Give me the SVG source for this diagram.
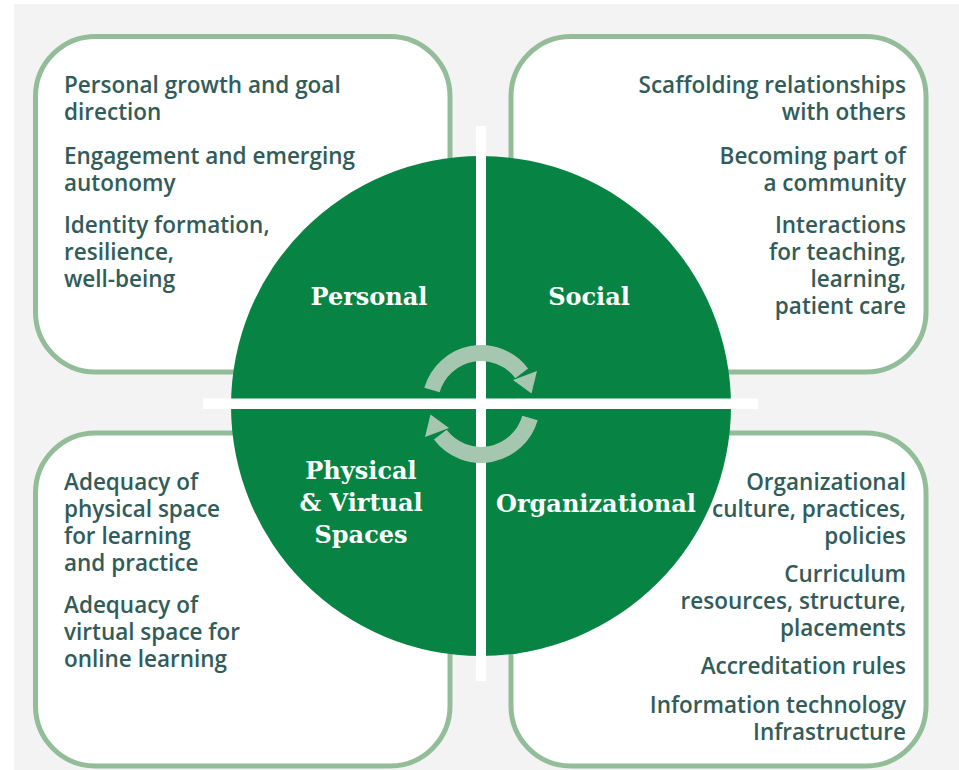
<svg xmlns="http://www.w3.org/2000/svg" width="959" height="770" viewBox="0 0 959 770">
<style>
.box{fill:#ffffff;stroke:#93bd98;stroke-width:5}
.t{font-family:"Open Sans","Liberation Sans",sans-serif;font-weight:600;font-size:22.5px;fill:#325c59}
.r{text-anchor:end}
.lab{font-family:"DejaVu Serif","Liberation Serif",serif;font-weight:bold;font-size:24px;fill:#ffffff;text-anchor:middle}
.bar{fill:#ffffff}
.arr{fill:none;stroke:#a6c7af;stroke-width:16}
.head{fill:#a6c7af}
</style>
<rect x="0" y="0" width="959" height="770" fill="#ffffff"/>
<rect x="14" y="4" width="945" height="766" fill="#f3f3f3"/>
<g id="box-personal">
<rect class="box" x="35.5" y="36.5" width="414.5" height="335.5" rx="60"/>
<text class="t" x="64" y="93">Personal growth and goal</text>
<text class="t" x="64" y="120">direction</text>
<text class="t" x="64" y="164">Engagement and emerging</text>
<text class="t" x="64" y="191">autonomy</text>
<text class="t" x="64" y="233">Identity formation,</text>
<text class="t" x="64" y="260">resilience,</text>
<text class="t" x="64" y="287">well-being</text>
</g>
<g id="box-social">
<rect class="box" x="511" y="36.5" width="415" height="335.5" rx="60"/>
<text class="t r" x="906" y="93">Scaffolding relationships</text>
<text class="t r" x="906" y="120">with others</text>
<text class="t r" x="906" y="164">Becoming part of</text>
<text class="t r" x="906" y="191">a community</text>
<text class="t r" x="906" y="233">Interactions</text>
<text class="t r" x="906" y="260">for teaching,</text>
<text class="t r" x="906" y="287">learning,</text>
<text class="t r" x="906" y="314">patient care</text>
</g>
<g id="box-physical">
<rect class="box" x="35.5" y="433" width="414.5" height="333" rx="60"/>
<text class="t" x="64" y="490">Adequacy of</text>
<text class="t" x="64" y="517">physical space</text>
<text class="t" x="64" y="544">for learning</text>
<text class="t" x="64" y="571">and practice</text>
<text class="t" x="64" y="613">Adequacy of</text>
<text class="t" x="64" y="640">virtual space for</text>
<text class="t" x="64" y="667">online learning</text>
</g>
<g id="box-organizational">
<rect class="box" x="511" y="433" width="415" height="333" rx="60"/>
<text class="t r" x="906" y="490">Organizational</text>
<text class="t r" x="906" y="517">culture, practices,</text>
<text class="t r" x="906" y="544">policies</text>
<text class="t r" x="906" y="582">Curriculum</text>
<text class="t r" x="906" y="609">resources, structure,</text>
<text class="t r" x="906" y="636">placements</text>
<text class="t r" x="906" y="674">Accreditation rules</text>
<text class="t r" x="906" y="713">Information technology</text>
<text class="t r" x="906" y="740">Infrastructure</text>
</g>
<g id="wheel">
<circle cx="481" cy="406" r="250" fill="#078443"/>
<rect class="bar" x="476" y="126" width="10" height="555"/>
<rect class="bar" x="203" y="398.5" width="555" height="10.5"/>
</g>
<g id="connectors">
<path class="arr" d="M432 390 A51 51 0 0 1 521.7 373.3"/>
<polygon class="head" points="513,380 537,371 531.5,393.5"/>
<g transform="rotate(180 481 404)">
<path class="arr" d="M432 390 A51 51 0 0 1 521.7 373.3"/>
<polygon class="head" points="513,380 537,371 531.5,393.5"/>
</g>
</g>
<g id="label-personal"><text class="lab" x="369" y="305">Personal</text></g>
<g id="label-social"><text class="lab" x="589" y="305">Social</text></g>
<g id="label-physical"><text class="lab" x="361" y="479">Physical</text><text class="lab" x="361" y="511">&amp; Virtual</text><text class="lab" x="361" y="543">Spaces</text></g>
<g id="label-organizational"><text class="lab" x="596" y="512">Organizational</text></g>
</svg>
